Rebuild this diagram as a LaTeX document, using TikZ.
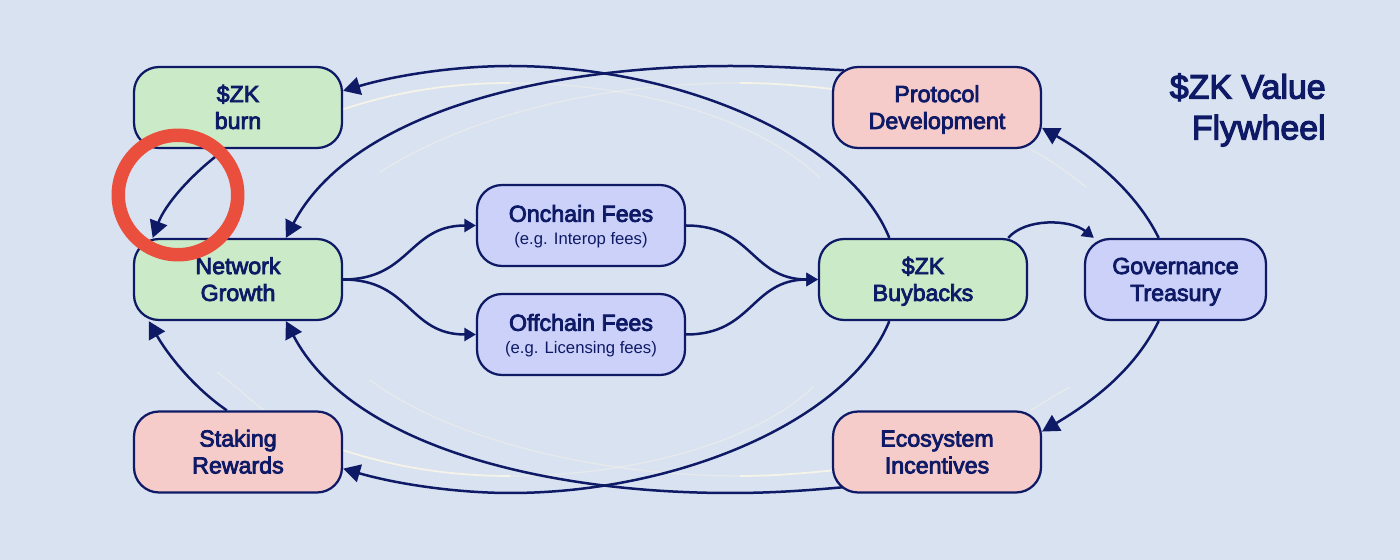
\documentclass[tikz,border=0pt]{standalone}
\usepackage{fontspec}
\usepackage{xcolor}
\setmainfont{Liberation Sans}[FakeBold=3.5]
\newfontfamily\subfont{Liberation Sans}
\usetikzlibrary{arrows.meta,positioning,calc,backgrounds}
\definecolor{pagebg}{HTML}{D9E2F1}
\definecolor{navy}{HTML}{0E1A66}
\definecolor{boxgreen}{HTML}{CBEBC8}
\definecolor{boxpink}{HTML}{F5CCCA}
\definecolor{boxblue}{HTML}{CBD1F8}
\definecolor{ringred}{HTML}{EA4F3D}
\definecolor{ghost}{HTML}{F6F3E8}
\tikzset{
  card/.style={draw=navy, line width=0.045cm, rounded corners=0.5cm, minimum width=4.16cm,
    minimum height=1.62cm, inner sep=0pt, align=center, text=navy, text height=26pt, text depth=1.6pt,
    font=\fontsize{13.2}{15.3}\selectfont},
  greencard/.style={card, fill=boxgreen},
  pinkcard/.style={card, fill=boxpink},
  bluecard/.style={card, fill=boxblue},
  feecard/.style={bluecard, text height=23.6pt},
  flow/.style={draw=navy, line width=0.05cm, -{Triangle[length=0.34cm,width=0.36cm]}},
  flowsmall/.style={draw=navy, line width=0.05cm, -{Triangle[length=0.23cm,width=0.26cm]}},
  ghostline/.style={draw=ghost, line width=0.035cm},
  ghostfaint/.style={draw=ghost, line width=0.025cm, opacity=0.5},
}
\begin{document}
\begin{tikzpicture}[x=0.02cm, y=-0.02cm]
    % Cards
    \node[greencard] (burn) at (238,107.5) {\$ZK\\burn};
    \node[greencard] (network) at (238,279.5) {Network\\Growth};
    \node[pinkcard] (staking) at (238,452) {Staking\\Rewards};
    \node[feecard] (onchain) at (581,225.5) {Onchain Fees\\[-2.2pt]{\subfont\fontsize{9.5}{11}\selectfont (e.g. Interop fees)}};
    \node[feecard] (offchain) at (581,334.5) {Offchain Fees\\[-2.2pt]{\subfont\fontsize{9.5}{11}\selectfont (e.g. Licensing fees)}};
    \node[pinkcard] (protocol) at (937,107.5) {Protocol\\Development};
    \node[greencard] (buyback) at (923,279.5) {\$ZK\\Buybacks};
    \node[bluecard, minimum width=3.62cm] (treasury) at (1175.5,279.5) {Governance\\Treasury};
    \node[pinkcard] (ecosystem) at (937,452) {Ecosystem\\Incentives};

    % Title
    \node[anchor=east, align=right, inner sep=0pt, text=navy, font=\fontsize{19.3}{23.2}\selectfont] (title) at (1326,110) {\$ZK Value\\Flywheel};

    % Knots of the long arcs
    \coordinate (topburn) at (510,66);
    \coordinate (topproto) at (730,66);
    \coordinate (lowstaking) at (510,493);
    \coordinate (loweco) at (730,493);
    \coordinate (ghosttopa) at (510,83);
    \coordinate (ghosttopb) at (740,83);
    \coordinate (ghostlowa) at (510,476);
    \coordinate (ghostlowb) at (740,476);
    \coordinate (ghostrighta) at (820,178);
    \coordinate (ghostlefta) at (380,172);
    \coordinate (ghostrightb) at (813,387);
    \coordinate (ghostleftb) at (370,380);
    \coordinate (ghosttreasa) at (1086,187);
    \coordinate (ghosttreasb) at (1070,387);
    \coordinate (ghoststake) at (217,372);

    \begin{pgfonlayer}{background}
    \fill[pagebg] (0,0) rectangle (1400,560);

    % Faint lines
    \draw[ghostfaint] (ghostrighta) .. controls (760,120) and (640,83) .. (ghosttopa);
    \draw[ghostline] (ghosttopa) .. controls (450,83) and (395,92) .. (burn.-1.4);
    \draw[ghostline] (protocol.170) .. controls (805,86) and (775,83) .. (ghosttopb);
    \draw[ghostfaint] (ghosttopb) .. controls (600,83) and (470,115) .. (ghostlefta);
    \draw[ghostfaint] (ghostrightb) .. controls (760,439) and (640,476) .. (ghostlowa);
    \draw[ghostline] (ghostlowa) .. controls (450,476) and (395,467) .. (staking.1.6);
    \draw[ghostline] (ecosystem.190) .. controls (805,473) and (775,476) .. (ghostlowb);
    \draw[ghostfaint] (ghostlowb) .. controls (600,476) and (450,440) .. (ghostleftb);
    \draw[ghostfaint] (protocol.-24) .. controls (1045,157) and (1065,170) .. (ghosttreasa);
    \draw[ghostfaint] (ecosystem.24) .. controls (1040,405) and (1055,395) .. (ghosttreasb);
    \draw[ghostfaint] (staking.58) .. controls (250,400) and (235,385) .. (ghoststake);

    % Long arcs
    \draw[flow] (buyback.129.2) .. controls (850,140) and (680,66) .. (topburn) .. controls (460,66) and (400,74) .. (burn.9.55);
    \draw[flow] ($(protocol.160.3)+(12,1)$) .. controls (800,68) and (770,66) .. (topproto) .. controls (540,66) and (350,115) .. (network.41.4);
    \draw[flow] (buyback.-129.2) .. controls (850,419) and (680,493) .. (lowstaking) .. controls (460,493) and (400,485) .. (staking.-9.3);
    \draw[flow] ($(ecosystem.199)+(12,-1)$) .. controls (800,491) and (770,493) .. (loweco) .. controls (540,493) and (350,444) .. (network.-41.4);

    % Short arcs
    \draw[flow] (burn.253.5) .. controls (190,175) and (165,205) .. (network.154.8);
    \draw[flow] (staking.105.4) .. controls (190,385) and (165,350) .. (network.205.2);
    \draw[flow] (treasury.112) .. controls (1135,190) and (1090,155) .. (protocol.-11.1);
    \draw[flow] (treasury.-112) .. controls (1135,369) and (1095,400) .. (ecosystem.11.9);
    \draw[flowsmall] (buyback.26.3) .. controls (1025,218) and (1070,219) .. (treasury.153.6);

    % Fees
    \draw[flowsmall] (network.east) to[out=0, in=180, looseness=1.2] (onchain.west);
    \draw[flowsmall] (network.east) to[out=0, in=180, looseness=1.2] (offchain.west);
    \draw[flowsmall] (onchain.east) to[out=0, in=180, looseness=1.2] (buyback.west);
    \draw[flowsmall] (offchain.east) to[out=0, in=180, looseness=1.2] (buyback.west);
    \end{pgfonlayer}

    % Ring
    \node[circle, draw=ringred, line width=0.27cm, minimum size=2.39cm, inner sep=0pt] (ring) at (178,195) {};
\end{tikzpicture}
\end{document}
